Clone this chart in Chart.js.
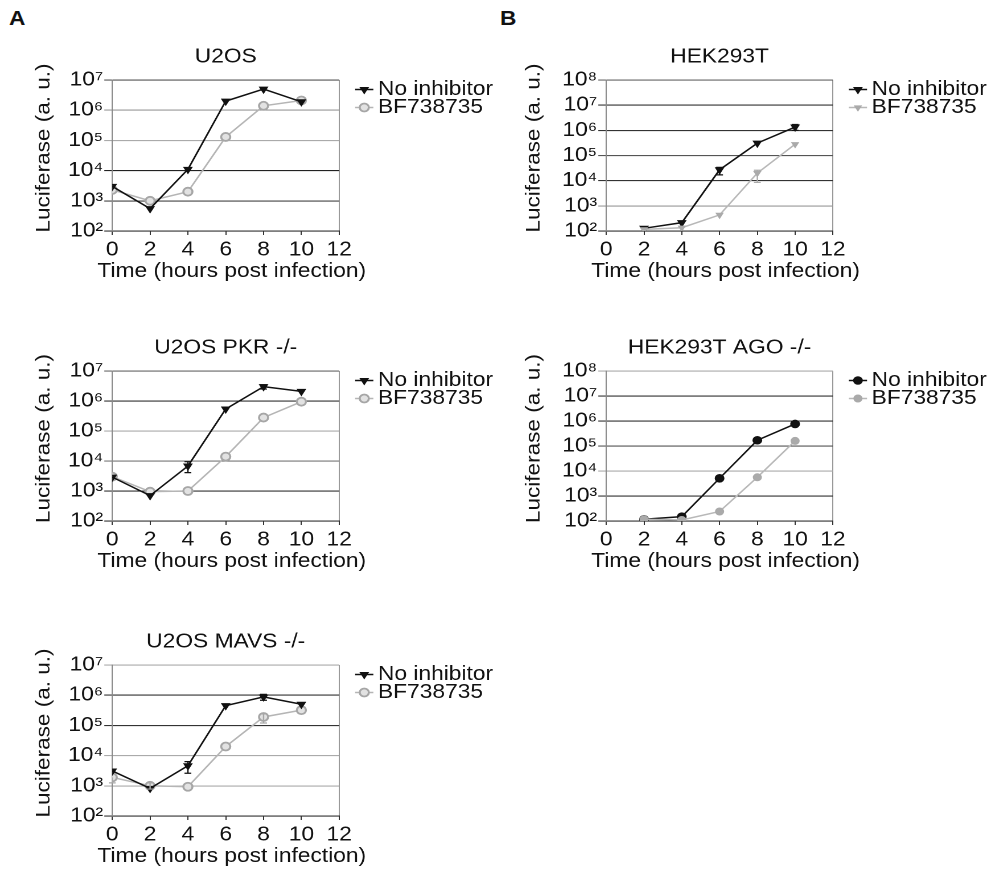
<!DOCTYPE html>
<html><head><meta charset="utf-8">
<script src="https://cdn.jsdelivr.net/npm/chart.js@4.4.1/dist/chart.umd.min.js"></script>
<style>
html,body{margin:0;padding:0;background:#fff;overflow:hidden;}
#page{position:relative;width:997px;height:873px;overflow:hidden;}
#page canvas{position:absolute;transform-origin:0 0;transform:scaleX(1.136);}
.panel{position:absolute;font-family:'Liberation Sans',Arial,sans-serif;font-weight:bold;font-size:20px;line-height:20px;color:#111;transform-origin:0 0;transform:scaleX(1.136);}
</style></head><body><div id="page">
<div class="panel" style="left:9px;top:8px">A</div>
<div class="panel" style="left:500px;top:8px">B</div>
<canvas id="cU2OS"></canvas>
<canvas id="cPKR"></canvas>
<canvas id="cMAVS"></canvas>
<canvas id="cHEK"></canvas>
<canvas id="cAGO"></canvas>
</div>
<script>
// ---------- data ----------
const seriesNames = ['No inhibitor', 'BF738735'];
const xTitle = 'Time (hours post infection)';
const yTitle = 'Luciferase (a. u.)';
const xTicks = [0, 2, 4, 6, 8, 10, 12];
const yTicksA = [1e2, 1e3, 1e4, 1e5, 1e6, 1e7];
const yTicksB = [1e2, 1e3, 1e4, 1e5, 1e6, 1e7, 1e8];
const hoursA = [0, 2, 4, 6, 8, 10];
const hoursB = [2, 4, 6, 8, 10];

const titleU2OS = 'U2OS';
const u2osNoInh = [3000, 550, 11000, 2.0e6, 5.0e6, 1.9e6];
const u2osBF    = [2300, 1000, 2000, 1.3e5, 1.4e6, 2.1e6];

const titlePKR = 'U2OS PKR -/-';
const pkrNoInh  = [2900, 700, 6800, 5.4e5, 3.0e6, 2.1e6];
const pkrBF     = [3000, 950, 1000, 1.4e4, 2.8e5, 9.5e5];
const pkrNoInhErrLo = [null, null, 4100, null, 2.5e6, null];
const pkrNoInhErrHi = [null, null, 9500, null, 3.5e6, null];

const titleMAVS = 'U2OS MAVS -/-';
const mavsNoInh = [3100, 820, 4600, 4.5e5, 8.8e5, 5.0e5];
const mavsBF    = [1900, 1000, 930, 2.0e4, 1.9e5, 3.2e5];
const mavsNoInhErrLo = [null, null, 2600, null, 6.8e5, null];
const mavsNoInhErrHi = [null, null, 6300, null, 1.07e6, null];
const mavsBFErrLo = [1250, 780, null, null, 1.2e5, null];
const mavsBFErrHi = [null, 1250, null, null, 2.4e5, null];

const titleHEK = 'HEK293T';
const hekNoInh = [128, 215, 2.7e4, 3.1e5, 1.35e6];
const hekBF    = [116, 135, 435, 2.0e4, 2.8e5];
const hekNoInhErrLo = [null, null, 1.7e4, null, 1.0e6];
const hekNoInhErrHi = [null, null, 3.4e4, null, 1.7e6];
const hekBFErrLo = [null, null, null, 8500, null];
const hekBFErrHi = [null, null, null, 2.6e4, null];

const titleAGO = 'HEK293T AGO -/-';
const agoNoInh = [117, 149, 5100, 1.7e5, 7.6e5];
const agoBF    = [117, 110, 240, 5600, 1.6e5];

// ---------- styles ----------
const S = 1.136; // horizontal stretch of the reference figure
const FONT = "'Liberation Sans', Arial, sans-serif";
Chart.defaults.font.family = FONT;
Chart.defaults.color = '#111';

const gridShadeU2OS = ['#333', '#444', '#222', '#aaa', '#999', '#555'];
const gridShadePKR  = ['#333', '#333', '#777', '#aaa', '#333', '#666'];
const gridShadeMAVS = ['#333', '#aaa', '#aaa', '#333', '#333', '#aaa'];
const gridShadeHEK  = ['#333', '#999', '#333', '#555', '#333', '#333', '#666'];
const gridShadeAGO  = ['#333', '#333', '#aaa', '#555', '#333', '#333', '#aaa'];

const styleBlackTri = {borderColor:'#111', pointStyle:'triangle', pointRotation:180, pointRadius:4, pointBorderWidth:1, pointBackgroundColor:'#111', pointBorderColor:'#111', borderWidth:1.5};
const styleGrayRing = {borderColor:'#b5b5b5', pointStyle:'circle', pointRadius:4, pointBorderWidth:1.8, pointBackgroundColor:'#e2e2e2', pointBorderColor:'#a6a6a6', borderWidth:1.5};
const styleGrayTri  = {borderColor:'#b8b8b8', pointStyle:'triangle', pointRotation:180, pointRadius:3.3, pointBorderWidth:1, pointBackgroundColor:'#aaa', pointBorderColor:'#aaa', borderWidth:1.5};
const styleBlackDot = {borderColor:'#111', pointStyle:'circle', pointRadius:3.8, pointBorderWidth:1, pointBackgroundColor:'#111', pointBorderColor:'#111', borderWidth:1.5};
const styleGrayDot  = {borderColor:'#b8b8b8', pointStyle:'circle', pointRadius:3.5, pointBorderWidth:1, pointBackgroundColor:'#aaa', pointBorderColor:'#aaa', borderWidth:1.5};

const SUP = ['\u2070','\u00b9','\u00b2','\u00b3','\u2074','\u2075','\u2076','\u2077','\u2078','\u2079'];
function powLabel(v) { const e = Math.round(Math.log10(v)); return '10' + String(e).split('').map(d => SUP[+d]).join(''); }

function series(label, xs, ys, style, errLo, errHi, order) {
  return Object.assign({label, data: xs.map((x, i) => ({x, y: ys[i]})), tension: 0, fill: false, errLo, errHi, order: order || 0}, style);
}

// ---------- plugins ----------
const errorBars = {
  id: 'errorBars',
  afterDatasetsDraw(chart) {
    const ctx = chart.ctx, yS = chart.scales.y;
    chart.data.datasets.forEach((ds, i) => {
      if (!ds.errLo && !ds.errHi) return;
      const meta = chart.getDatasetMeta(i);
      ctx.save();
      ctx.strokeStyle = ds.pointBorderColor || ds.borderColor;
      ctx.lineWidth = 1.2;
      meta.data.forEach((pt, j) => {
        const lo = ds.errLo ? ds.errLo[j] : null, hi = ds.errHi ? ds.errHi[j] : null;
        if (lo == null && hi == null) return;
        const v = ds.data[j].y;
        const yl = yS.getPixelForValue(lo != null ? lo : v), yh = yS.getPixelForValue(hi != null ? hi : v);
        ctx.beginPath();
        ctx.moveTo(pt.x, yl); ctx.lineTo(pt.x, yh);
        if (lo != null) { ctx.moveTo(pt.x - 3, yl); ctx.lineTo(pt.x + 3, yl); }
        if (hi != null) { ctx.moveTo(pt.x - 3, yh); ctx.lineTo(pt.x + 3, yh); }
        ctx.stroke();
      });
      ctx.restore();
    });
  }
};

function drawMarker(ctx, ds, x, y) {
  ctx.save();
  ctx.fillStyle = ds.pointBackgroundColor;
  ctx.strokeStyle = ds.pointBorderColor;
  ctx.lineWidth = ds.pointBorderWidth;
  if (Chart.helpers && Chart.helpers.drawPoint) {
    Chart.helpers.drawPoint(ctx, {pointStyle: ds.pointStyle, rotation: ds.pointRotation || 0, radius: ds.pointRadius, borderWidth: ds.pointBorderWidth}, x, y);
  } else {
    ctx.beginPath(); ctx.arc(x, y, ds.pointRadius, 0, Math.PI * 2); ctx.fill(); ctx.stroke();
  }
  ctx.restore();
}

const sideLegend = {
  id: 'sideLegend',
  afterDraw(chart) {
    const ctx = chart.ctx, a = chart.chartArea;
    chart.data.datasets.forEach((ds, i) => {
      const y = a.top + 9.5 + i * 18;
      const x0 = a.right + 14;
      ctx.save();
      ctx.strokeStyle = ds.borderColor; ctx.lineWidth = 1.5;
      ctx.beginPath(); ctx.moveTo(x0, y); ctx.lineTo(x0 + 16, y); ctx.stroke();
      ctx.restore();
      drawMarker(ctx, ds, x0 + 8, y);
      ctx.save();
      ctx.fillStyle = '#111'; ctx.font = '20px ' + FONT;
      ctx.textBaseline = 'middle'; ctx.textAlign = 'left';
      ctx.fillText(ds.label, x0 + 20, y);
      ctx.restore();
    });
  }
};

// axis titles drawn without the maxWidth squeeze of the built-in scale titles
const axisTitles = {
  id: 'axisTitles',
  afterDraw(chart, args, opts) {
    const ctx = chart.ctx, a = chart.chartArea;
    ctx.save();
    ctx.fillStyle = '#111'; ctx.font = '20px ' + FONT;
    ctx.textAlign = 'center'; ctx.textBaseline = 'middle';
    ctx.fillText(opts.xText, (a.left + a.right) / 2 + 6 / S, a.bottom + 40.3);
    ctx.restore();
    ctx.save();
    ctx.fillStyle = '#111'; ctx.font = '20px ' + FONT;
    ctx.textAlign = 'center'; ctx.textBaseline = 'middle';
    ctx.translate(opts.yX, (a.top + a.bottom) / 2 - 7.5);
    ctx.rotate(-Math.PI / 2);
    ctx.scale(1.127, 1 / S);
    ctx.fillText(opts.yText, 0, 0);
    ctx.restore();
  }
};

// ---------- chart builder ----------
function makeChart(id, spec) {
  const canvas = document.getElementById(id);
  const W = spec.cssW / S, H = spec.cssH;
  canvas.width = W; canvas.height = H;
  canvas.style.width = W + 'px'; canvas.style.height = H + 'px';
  canvas.style.left = spec.cssL + 'px'; canvas.style.top = spec.cssT + 'px';
  const yAxisW = (spec.plotL - spec.cssL) / S;
  const rightPad = (spec.cssL + spec.cssW - spec.plotR) / S;
  const xAxisH = spec.cssT + H - spec.plotB;
  const titleTop = spec.plotT - spec.cssT - 24 - 11;
  const yTicks = spec.yTicks;
  return new Chart(canvas, {
    type: 'line',
    data: {datasets: spec.datasets},
    options: {
      responsive: false, animation: false, devicePixelRatio: 2,
      layout: {padding: {left: 0, right: rightPad, top: 0, bottom: 0}},
      plugins: {
        legend: {display: false}, tooltip: {enabled: false},
        title: {display: true, text: spec.title, fullSize: false, color: '#111',
                font: {size: 20, weight: 'normal'}, padding: {top: titleTop, bottom: 11}},
        axisTitles: {xText: xTitle, yText: yTitle, yX: spec.yTitleX / S}
      },
      scales: {
        x: {
          type: 'linear', min: 0, max: 12,
          afterBuildTicks: s => { s.ticks = xTicks.map(v => ({value: v})); },
          afterFit: s => { s.height = xAxisH; },
          ticks: {font: {size: 20}, color: '#111', padding: 3, maxRotation: 0, autoSkip: false},
          grid: {color: c => (c.tick && c.tick.value === 12) ? '#999' : 'rgba(0,0,0,0)', tickColor: '#333', tickLength: 4, lineWidth: 1},
          border: {color: '#333', width: 1},
          title: {display: false}
        },
        y: {
          type: 'logarithmic', min: yTicks[0], max: yTicks[yTicks.length - 1],
          afterBuildTicks: s => { s.ticks = yTicks.map(v => ({value: v})); },
          afterFit: s => { s.width = yAxisW; },
          ticks: {font: {size: 20}, color: '#111', padding: 1, autoSkip: false, callback: v => powLabel(v)},
          grid: {color: c => spec.shades[c.index] || '#666', tickColor: c => spec.shades[c.index] || '#666', tickLength: 7, lineWidth: 1.1},
          border: {color: '#888', width: 1},
          title: {display: false}
        }
      }
    },
    plugins: [errorBars, sideLegend, axisTitles]
  });
}

makeChart('cU2OS', {cssL: 0, cssT: 40, cssW: 497, cssH: 250, plotL: 112, plotR: 339, plotT: 80, plotB: 231,
  yTicks: yTicksA, shades: gridShadeU2OS, title: titleU2OS, yTitleX: 44,
  datasets: [series(seriesNames[0], hoursA, u2osNoInh, styleBlackTri), series(seriesNames[1], hoursA, u2osBF, styleGrayRing)]});

makeChart('cPKR', {cssL: 0, cssT: 331, cssW: 497, cssH: 250, plotL: 112, plotR: 339, plotT: 371, plotB: 521,
  yTicks: yTicksA, shades: gridShadePKR, title: titlePKR, yTitleX: 44,
  datasets: [series(seriesNames[0], hoursA, pkrNoInh, styleBlackTri, pkrNoInhErrLo, pkrNoInhErrHi), series(seriesNames[1], hoursA, pkrBF, styleGrayRing)]});

makeChart('cMAVS', {cssL: 0, cssT: 625, cssW: 497, cssH: 248, plotL: 112, plotR: 339, plotT: 665, plotB: 816,
  yTicks: yTicksA, shades: gridShadeMAVS, title: titleMAVS, yTitleX: 44,
  datasets: [series(seriesNames[0], hoursA, mavsNoInh, styleBlackTri, mavsNoInhErrLo, mavsNoInhErrHi), series(seriesNames[1], hoursA, mavsBF, styleGrayRing, mavsBFErrLo, mavsBFErrHi)]});

makeChart('cHEK', {cssL: 494, cssT: 40, cssW: 503, cssH: 250, plotL: 606, plotR: 833, plotT: 80, plotB: 231,
  yTicks: yTicksB, shades: gridShadeHEK, title: titleHEK, yTitleX: 40,
  datasets: [series(seriesNames[0], hoursB, hekNoInh, styleBlackTri, hekNoInhErrLo, hekNoInhErrHi, 1), series(seriesNames[1], hoursB, hekBF, styleGrayTri, hekBFErrLo, hekBFErrHi, 0)]});

makeChart('cAGO', {cssL: 494, cssT: 331, cssW: 503, cssH: 250, plotL: 606, plotR: 833, plotT: 371, plotB: 521,
  yTicks: yTicksB, shades: gridShadeAGO, title: titleAGO, yTitleX: 40,
  datasets: [series(seriesNames[0], hoursB, agoNoInh, styleBlackDot, null, null, 1), series(seriesNames[1], hoursB, agoBF, styleGrayDot, null, null, 0)]});
</script>
</body></html>
